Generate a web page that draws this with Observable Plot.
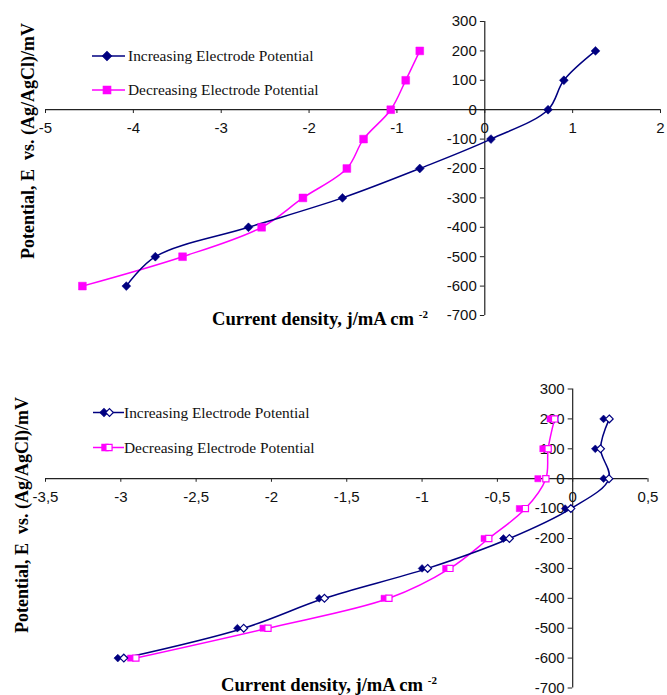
<!DOCTYPE html>
<html>
<head>
<meta charset="utf-8">
<script src="https://cdn.jsdelivr.net/npm/d3@7"></script>
<script src="https://cdn.jsdelivr.net/npm/@observablehq/plot@0.6"></script>
<style>
  html, body { margin: 0; padding: 0; background: #fff; }
  #charts { width: 667px; }
  #charts svg { display: block; }
</style>
</head>
<body>
<div id="charts"></div>
<script>
// ---------- data ----------
const potentials = [200, 100, 0, -100, -200, -300, -400, -500, -600];

// upper panel
const topIncreasing = [1.26, 0.90, 0.72, 0.07, -0.74, -1.62, -2.69, -3.75, -4.08];
const topDecreasing = [-0.74, -0.90, -1.07, -1.38, -1.57, -2.07, -2.54, -3.44, -4.58];

// lower panel (each point is drawn twice: filled marker and open marker)
const botIncreasingFilled = [0.205, 0.15, 0.205, -0.05, -0.46, -1.00, -1.683, -2.226, -3.02];
const botIncreasingOpen   = [0.243, 0.185, 0.241, -0.012, -0.42, -0.963, -1.648, -2.184, -2.98];
const botDecreasingFilled = [-0.15, -0.198, -0.231, -0.354, -0.588, -0.843, -1.252, -2.056, -2.935];
const botDecreasingOpen   = [-0.12, -0.163, -0.178, -0.314, -0.557, -0.815, -1.22, -2.023, -2.90];

const topXTicks = [-5, -4, -3, -2, -1, 0, 1, 2];
const botXTicks = [-3.5, -3, -2.5, -2, -1.5, -1, -0.5, 0, 0.5];
const yTicks = [300, 200, 100, 0, -100, -200, -300, -400, -500, -600, -700];

const seriesNames = ["Increasing Electrode Potential", "Decreasing Electrode Potential"];
const yTitle = "Potential, E  vs. (Ag/AgCl)/mV";
const xTitle = "Current density, j/mA cm";
const xTitleSup = "-2";

// ---------- styling ----------
const NAVY = "#000080";
const MAGENTA = "#ff00ff";
const AXIS = "#222";
const SANS = "'Liberation Sans', Arial, sans-serif";
const SERIF = "'Liberation Serif', 'Times New Roman', serif";

const table = (arr) => potentials.map((E, i) => ({E, j: arr[i]}));
const commaFmt = (d) => String(d).replace(".", ",");

function textMark(build) {
  return () => {
    const g = d3.create("svg:g");
    build(g);
    return g.node();
  };
}

function titles(yx, yy, xx, xy) {
  return textMark((g) => {
    g.append("text")
      .attr("transform", `translate(${yx},${yy}) rotate(-90)`)
      .attr("text-anchor", "middle")
      .attr("font-family", SERIF).attr("font-weight", "bold").attr("font-size", 18)
      .attr("fill", "#000").attr("xml:space", "preserve")
      .text(yTitle);
    const t = g.append("text")
      .attr("x", xx).attr("y", xy)
      .attr("text-anchor", "start")
      .attr("font-family", SERIF).attr("font-weight", "bold").attr("font-size", 18.6)
      .attr("fill", "#000").attr("xml:space", "preserve");
    t.append("tspan").text(xTitle + " ");
    t.append("tspan").attr("dy", -7).attr("font-size", 11).text(xTitleSup);
  });
}

function legend(items) {
  return textMark((g) => {
    items.forEach((it) => {
      g.append("line")
        .attr("x1", it.x1).attr("x2", it.x2).attr("y1", it.y).attr("y2", it.y)
        .attr("stroke", it.color).attr("stroke-width", 1.5);
      it.markers.forEach((m) => {
        g.append("path")
          .attr("d", d3.symbol(m.type, m.size)())
          .attr("transform", `translate(${m.x},${it.y})`)
          .attr("fill", m.fill).attr("stroke", it.color).attr("stroke-width", 1.2);
      });
      g.append("text")
        .attr("x", it.tx).attr("y", it.y + 5)
        .attr("text-anchor", "start")
        .attr("font-family", SERIF).attr("font-size", 15.4).attr("fill", "#111")
        .text(it.label);
    });
  });
}

function axes(xTicks, fmt, xTickLen, yTickLen) {
  return [
    Plot.ruleY([0], {stroke: AXIS, strokeWidth: 1.2}),
    Plot.ruleX([0], {stroke: AXIS, strokeWidth: 1.2}),
    Plot.ruleX(xTicks, {x: (d) => d, y1: 0, y2: -xTickLen, stroke: AXIS, strokeWidth: 1}),
    Plot.ruleY(yTicks, {y: (d) => d, x1: 0, x2: -yTickLen, stroke: AXIS, strokeWidth: 1}),
    Plot.text(xTicks, {x: (d) => d, y: 0, text: fmt, dy: 18, fontSize: 15, fontFamily: SANS, fill: "#111", textAnchor: "middle"}),
    Plot.text(yTicks, {x: 0, y: (d) => d, text: (d) => String(d), dx: -8, fontSize: 15, fontFamily: SANS, fill: "#111", textAnchor: "end"})
  ];
}

// ---------- upper panel ----------
const topInc = table(topIncreasing);
const topDec = table(topDecreasing);

const chartTop = Plot.plot({
  width: 667, height: 340,
  marginLeft: 45, marginRight: 7, marginTop: 21, marginBottom: 25,
  x: {domain: [-5, 2], axis: null},
  y: {domain: [-700, 300], axis: null},
  style: {background: "#fff", overflow: "visible"},
  marks: [
    ...axes(topXTicks, (d) => String(d), 13, 0.05),
    Plot.line(topDec, {x: "j", y: "E", stroke: MAGENTA, strokeWidth: 1.5, curve: "catmull-rom"}),
    Plot.line(topInc, {x: "j", y: "E", stroke: NAVY, strokeWidth: 1.5, curve: "catmull-rom"}),
    Plot.dot(topDec, {x: "j", y: "E", symbol: "square", r: 4.4, fill: MAGENTA, stroke: MAGENTA, strokeWidth: 0.5}),
    Plot.dot(topInc, {x: "j", y: "E", symbol: "diamond2", r: 4, fill: NAVY, stroke: NAVY, strokeWidth: 0.5}),
    legend([
      {label: seriesNames[0], color: NAVY, y: 56, x1: 92, x2: 125, tx: 128,
       markers: [{type: d3.symbolDiamond2, size: 50, x: 107, fill: NAVY}]},
      {label: seriesNames[1], color: MAGENTA, y: 90, x1: 92, x2: 125, tx: 128,
       markers: [{type: d3.symbolSquare, size: 55, x: 107, fill: MAGENTA}]}
    ]),
    titles(34, 141, 212, 325)
  ]
});

// ---------- lower panel ----------
const botIncF = table(botIncreasingFilled);
const botIncO = table(botIncreasingOpen);
const botDecF = table(botDecreasingFilled);
const botDecO = table(botDecreasingOpen);

const chartBottom = Plot.plot({
  width: 667, height: 355,
  marginLeft: 45, marginRight: 19.5, marginTop: 48.5, marginBottom: 7.5,
  x: {domain: [-3.5, 0.5], axis: null},
  y: {domain: [-700, 300], axis: null},
  style: {background: "#fff", overflow: "visible"},
  marks: [
    ...axes(botXTicks, commaFmt, 12, 0.03),
    Plot.line(botDecO, {x: "j", y: "E", stroke: MAGENTA, strokeWidth: 1.5, curve: "catmull-rom"}),
    Plot.line(botIncO, {x: "j", y: "E", stroke: NAVY, strokeWidth: 1.5, curve: "catmull-rom"}),
    Plot.dot(botDecF, {x: "j", y: "E", symbol: "square", r: 3.5, fill: MAGENTA, stroke: MAGENTA, strokeWidth: 0.5}),
    Plot.dot(botDecO, {x: "j", y: "E", symbol: "square", r: 3.5, fill: "#fff", stroke: MAGENTA, strokeWidth: 1.2}),
    Plot.dot(botIncF, {x: "j", y: "E", symbol: "diamond2", r: 3.5, fill: NAVY, stroke: NAVY, strokeWidth: 0.5}),
    Plot.dot(botIncO, {x: "j", y: "E", symbol: "diamond2", r: 3.5, fill: "#fff", stroke: NAVY, strokeWidth: 1.2}),
    legend([
      {label: seriesNames[0], color: NAVY, y: 72.5, x1: 93, x2: 124, tx: 124,
       markers: [{type: d3.symbolDiamond2, size: 38, x: 104, fill: NAVY},
                 {type: d3.symbolDiamond2, size: 38, x: 109.5, fill: "#fff"}]},
      {label: seriesNames[1], color: MAGENTA, y: 107.5, x1: 93, x2: 124, tx: 124,
       markers: [{type: d3.symbolSquare, size: 38, x: 105, fill: MAGENTA},
                 {type: d3.symbolSquare, size: 38, x: 109, fill: "#fff"}]}
    ]),
    titles(28, 175, 221, 351)
  ]
});

const root = document.getElementById("charts");
root.appendChild(chartTop);
root.appendChild(chartBottom);
</script>
</body>
</html>
